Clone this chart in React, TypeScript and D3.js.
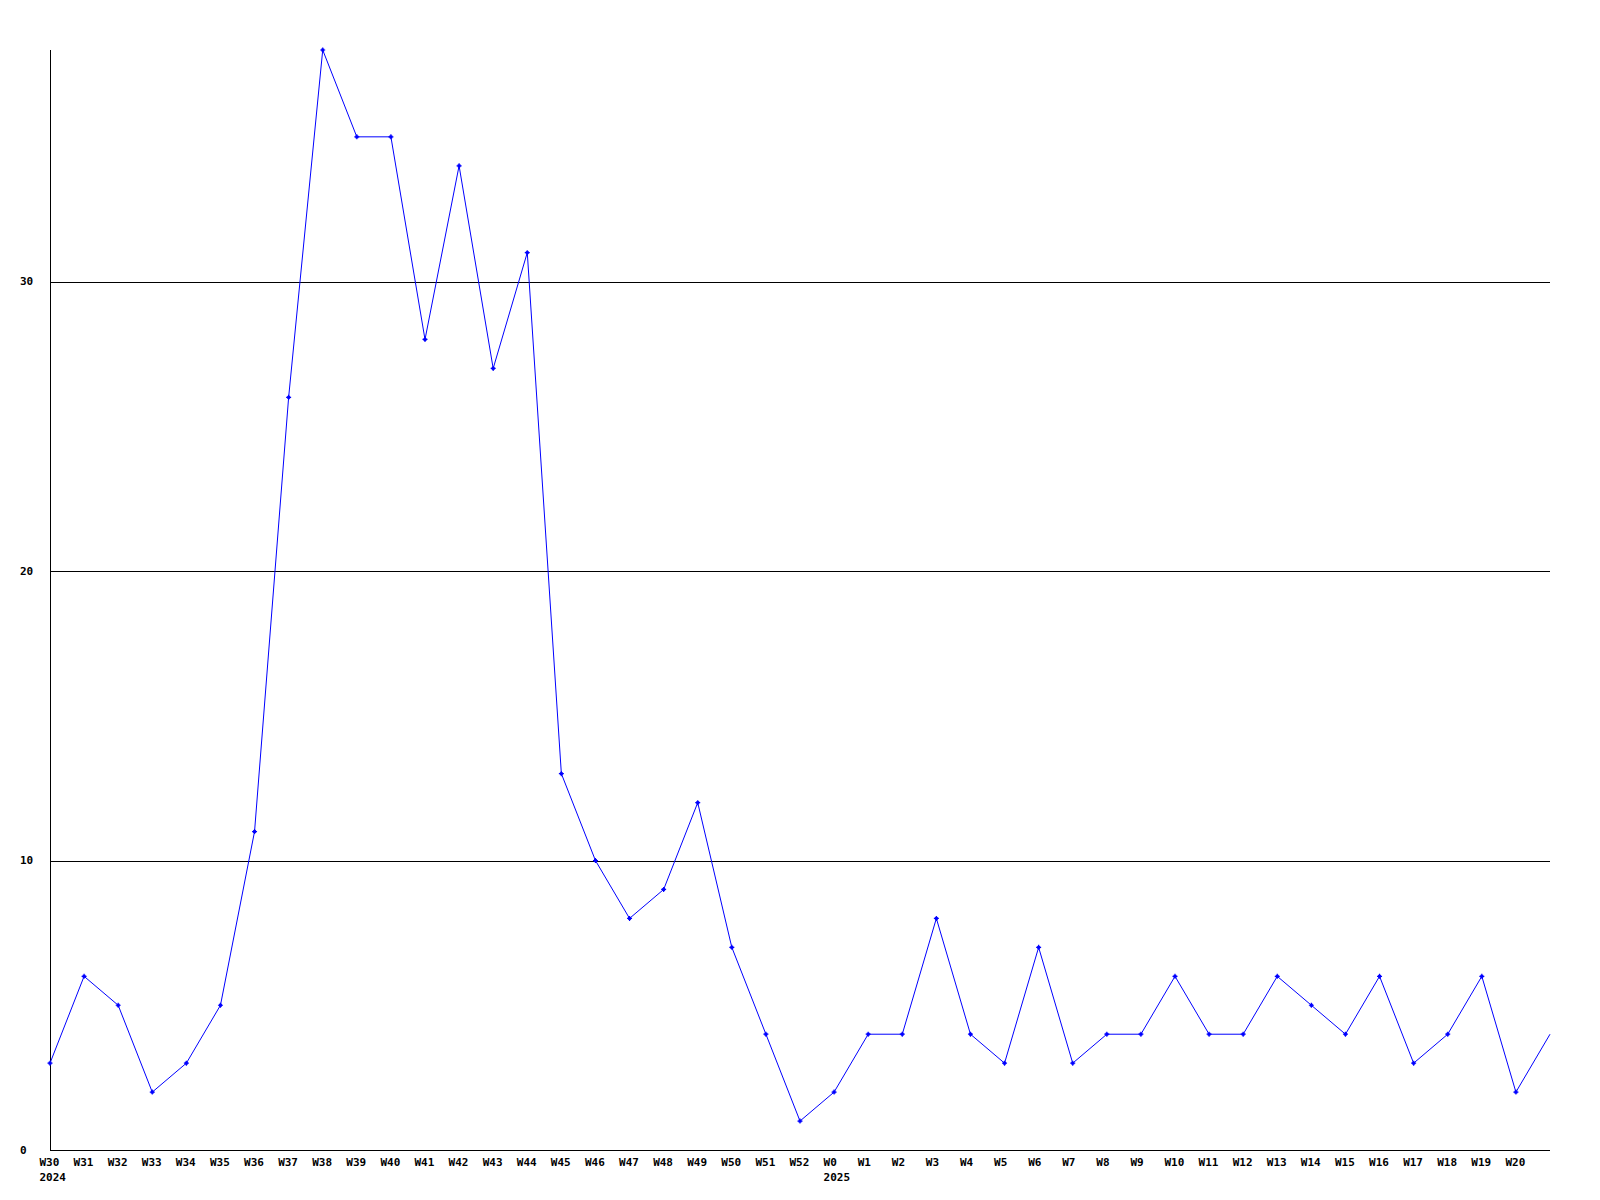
import React from "react";
import * as d3 from "d3";

const weekLabels = [
  "W30","W31","W32","W33","W34","W35","W36","W37","W38","W39","W40","W41","W42","W43","W44","W45","W46","W47","W48","W49","W50","W51","W52",
  "W0","W1","W2","W3","W4","W5","W6","W7","W8","W9","W10","W11","W12","W13","W14","W15","W16","W17","W18","W19","W20","",
];
const yearLabels = [
  { index: 0, label: "2024" },
  { index: 23, label: "2025" },
];
const values = [
  3, 6, 5, 2, 3, 5, 11, 26, 38, 35, 35, 28, 34, 27, 31, 13, 10, 8, 9, 12, 7, 4, 1,
  2, 4, 4, 8, 4, 3, 7, 3, 4, 4, 6, 4, 4, 6, 5, 4, 6, 3, 4, 6, 2, 4,
];
const yTicks = [0, 10, 20, 30];

export default function App() {
  const W = 1600, H = 1200;
  const left = 50, right = 1550, top = 50, bottom = 1150;
  const x = d3.scaleLinear().domain([0, values.length - 1]).range([left, right]);
  const y = d3.scaleLinear().domain([0, 38]).range([bottom, top]);
  const line = d3.line<number>().x((_, i) => x(i)).y((d) => y(d));
  const font = "'DejaVu Sans Mono', monospace";
  return (
    <svg width={W} height={H} style={{ position: "absolute", left: 0, top: 0, background: "#fff" }}>
      <rect x={0} y={0} width={W} height={H} fill="#fff" />
      {yTicks.filter((t) => t > 0).map((t) => (
        <line key={t} x1={left} x2={right} y1={Math.round(y(t)) + 0.5} y2={Math.round(y(t)) + 0.5} stroke="#000" strokeWidth={1} shapeRendering="crispEdges" />
      ))}
      <line x1={left + 0.5} x2={left + 0.5} y1={top} y2={bottom} stroke="#000" strokeWidth={1} shapeRendering="crispEdges" />
      <line x1={left} x2={right} y1={bottom + 0.5} y2={bottom + 0.5} stroke="#000" strokeWidth={1} shapeRendering="crispEdges" />
      {yTicks.map((t) => (
        <text key={t} x={20} y={y(t)} dy="0.35em" fontFamily={font} fontWeight="bold" fontSize={11} fill="#000">{t}</text>
      ))}
      {weekLabels.map((l, i) => l ? (
        <text key={i} x={x(i) - 10.5} y={1166} fontFamily={font} fontWeight="bold" fontSize={11} fill="#000">{l}</text>
      ) : null)}
      {yearLabels.map((yl) => (
        <text key={yl.label} x={x(yl.index) - 10.5} y={1181} fontFamily={font} fontWeight="bold" fontSize={11} fill="#000">{yl.label}</text>
      ))}
      <path d={line(values) || ""} fill="none" stroke="#0000ff" strokeWidth={1} />
      {values.slice(0, values.length - 1).map((v, i) => (
        <g key={i} transform={`translate(${x(i)},${y(v)})`}>
          <path d="M-2.5,0H2.5M0,-2.5V2.5" stroke="#0000ff" strokeWidth={1.2} />
          <rect x={-1.5} y={-1.5} width={3} height={3} fill="#0000ff" />
        </g>
      ))}
    </svg>
  );
}
